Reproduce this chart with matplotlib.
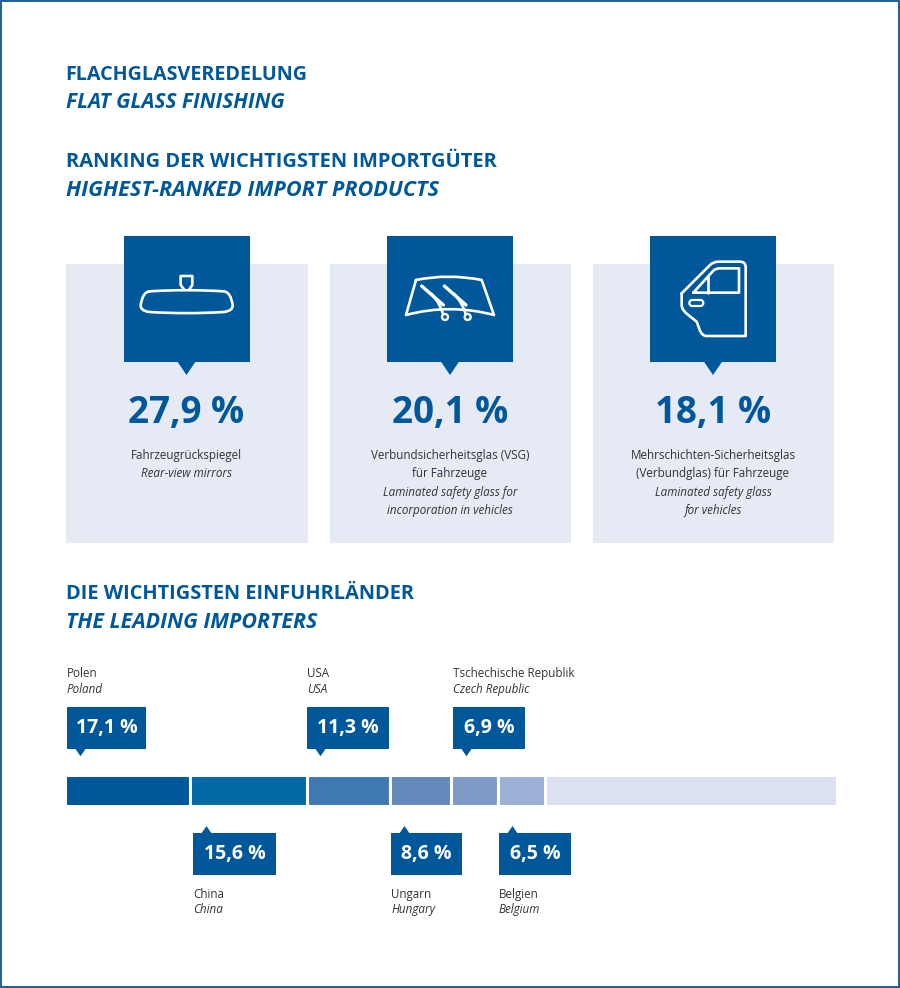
import matplotlib
matplotlib.use('Agg')
import matplotlib.pyplot as plt
from matplotlib.patches import Rectangle, Polygon, PathPatch, Circle
from matplotlib.path import Path

plt.rcParams['font.family'] = ['Open Sans', 'Noto Sans', 'DejaVu Sans']

BLUE = '#00589b'
PANEL = '#e6eaf5'
TEXT = '#333333'

# ranking cards
rank_values = ['27,9 %', '20,1 %', '18,1 %']
rank_de = [['Fahrzeugrückspiegel'],
           ['Verbundsicherheitsglas (VSG)', 'für Fahrzeuge'],
           ['Mehrschichten-Sicherheitsglas', '(Verbundglas) für Fahrzeuge']]
rank_en = [['Rear-view mirrors'],
           ['Laminated safety glass for', 'incorporation in vehicles'],
           ['Laminated safety glass', 'for vehicles']]

# importer bar, lengths as drawn in the picture (% of the bar)
countries_de = ['Polen', 'China', 'USA', 'Ungarn', 'Tschechische Republik', 'Belgien']
countries_en = ['Poland', 'China', 'USA', 'Hungary', 'Czech Republic', 'Belgium']
country_labels = ['17,1 %', '15,6 %', '11,3 %', '8,6 %', '6,9 %', '6,5 %']
bar_lengths = [16.2, 15.2, 10.8, 7.9, 6.1, 6.1, 37.7]
bar_colors = ['#00589b', '#0069a6', '#3f78b3', '#6489bd', '#7e9bc8', '#9db0d6', '#dce1f1']

fig = plt.figure(figsize=(9, 9.88), dpi=100)
ax = fig.add_axes([0, 0, 1, 1])
ax.set_xlim(0, 900)
ax.set_ylim(988, 0)
ax.axis('off')

ax.add_patch(Rectangle((1, 1), 898, 986, fc='white', ec='#1c5f9c', lw=1.4))


def heading(y, de, en, size_de, size_en):
    ax.text(65.5, y, de, color=BLUE, fontsize=size_de, fontweight='bold', va='center')
    ax.text(65.5, y + 28, en, color=BLUE, fontsize=size_en, fontweight='bold', style='italic', va='center')


heading(75, 'FLACHGLASVEREDELUNG', 'FLAT GLASS FINISHING', 14.2, 15)
heading(162, 'RANKING DER WICHTIGSTEN IMPORTGÜTER', 'HIGHEST-RANKED IMPORT PRODUCTS', 14.5, 15.6)
heading(594, 'DIE WICHTIGSTEN EINFUHRLÄNDER', 'THE LEADING IMPORTERS', 14.4, 15.4)

M, L, C = Path.MOVETO, Path.LINETO, Path.CURVE3


def outline(verts, codes=None, x0=0, y0=0, lw=1.9):
    # icon lines, verts traced at 3x zoom
    pts = [(x0 + x / 3, y0 + y / 3) for x, y in verts]
    if codes is None:
        codes = [M] + [L] * (len(pts) - 1)
    ax.add_patch(PathPatch(Path(pts, codes), fc='none', ec='white', lw=lw,
                           joinstyle='round', capstyle='round', zorder=5))


def mirror_icon(x0, y0):
    outline([(268, 184), (380, 177), (492, 184), (512, 186), (518, 225), (520, 242), (492, 246),
             (380, 253), (268, 246), (240, 242), (242, 225), (248, 186), (268, 184)],
            [M, C, C, C, C, C, C, C, C, C, C, C, C], x0=x0, y0=y0)
    outline([(372, 178), (362, 165), (362, 138), (397, 138), (397, 165), (388, 178)], x0=x0, y0=y0)


def shield_icon(x0, y0):
    outline([(108, 150), (205, 130), (305, 150), (342, 255), (210, 220), (78, 255), (108, 150)],
            [M, C, C, L, C, C, L], x0=x0, y0=y0)
    for dx in (0, 68):
        outline([(125 + dx, 168), (190 + dx, 225)], x0=x0, y0=y0, lw=2.4)
        outline([(155 + dx, 192), (180 + dx, 220), (190 + dx, 255)], [M, C, C], x0=x0, y0=y0)
        ax.add_patch(Circle((x0 + (195 + dx) / 3, y0 + 261 / 3), 3, fc=BLUE, ec='white', lw=1.7, zorder=6))


def door_icon(x0, y0):
    outline([(110, 190), (195, 105), (205, 95), (220, 95), (285, 95), (302, 95), (302, 112), (302, 318),
             (185, 318), (172, 318), (165, 302), (155, 275), (130, 255), (110, 240), (110, 225), (110, 190)],
            [M, L, C, C, L, C, C, L, L, C, C, L, L, C, C, L], x0=x0, y0=y0)
    outline([(145, 188), (205, 122), (212, 115), (225, 115), (282, 115), (282, 188), (145, 188)],
            [M, L, C, C, L, L, L], x0=x0, y0=y0)
    outline([(190, 140), (190, 188)], x0=x0, y0=y0)
    outline([(142, 210), (166, 210), (175, 210), (175, 219), (175, 228), (166, 228), (142, 228),
             (133, 228), (133, 219), (133, 210), (142, 210)],
            [M, L, C, C, C, C, L, C, C, C, C], x0=x0, y0=y0, lw=1.6)


# ranking cards
card_left = [66, 329.5, 592.5]
card_icons = [(mirror_icon, 60, 230), (shield_icon, 380, 230), (door_icon, 645, 230)]
for i, left in enumerate(card_left):
    ax.add_patch(Rectangle((left, 264), 241.5, 279, fc=PANEL, ec='none'))
    mid = left + 120.5
    ax.add_patch(Rectangle((mid - 63, 236), 126, 125.5, fc=BLUE, ec='none', zorder=2))
    ax.add_patch(Polygon([(mid - 9.5, 361), (mid + 9.5, 361), (mid, 375)], fc=BLUE, ec='none', zorder=2))
    fn, ix, iy = card_icons[i]
    fn(ix, iy)
    ax.text(mid, 413, rank_values[i], color=BLUE, fontsize=26.5, fontweight='bold', ha='center', va='center')
    y = 455
    for line in rank_de[i]:
        ax.text(mid, y, line, color=TEXT, fontsize=8.4, ha='center', va='center')
        y += 18.5
    for line in rank_en[i]:
        ax.text(mid, y, line, color=TEXT, fontsize=8.4, style='italic', ha='center', va='center')
        y += 18.5

# stacked bar in its own axes, so the lengths go through a real scale
bar_ax = fig.add_axes([64.5 / 900, 1 - 806 / 988, 772 / 900, 31 / 988])
bar_ax.set_xlim(0, sum(bar_lengths))
bar_ax.set_ylim(0, 1)
bar_ax.axis('off')
left = 0
for length, color in zip(bar_lengths, bar_colors):
    bar_ax.barh(0.5, length, left=left, height=1, color=color, edgecolor='white', linewidth=2.2)
    left += length

# callouts: Polen, USA, Tschechien above the bar, the others below
callout_left = [67, 193, 307, 391, 453, 499]
callout_width = [79, 83, 82, 71, 72, 72]
callout_above = [True, False, True, False, True, False]
for i in range(6):
    x = callout_left[i]
    w = callout_width[i]
    if callout_above[i]:
        top = 707.3
        ax.add_patch(Rectangle((x, top), w, 42, fc=BLUE, ec='none'))
        ax.add_patch(Polygon([(x + 8, top + 41), (x + 19, top + 41), (x + 13.5, top + 49)], fc=BLUE, ec='none'))
        ax.text(x + w / 2, top + 21, country_labels[i], color='white', fontsize=14, fontweight='bold', ha='center', va='center')
        ax.text(x, 673.5, countries_de[i], color=TEXT, fontsize=8.4, va='center')
        ax.text(x, 689, countries_en[i], color=TEXT, fontsize=8.4, style='italic', va='center')
    else:
        top = 833
        ax.add_patch(Rectangle((x, top), w, 41.5, fc=BLUE, ec='none'))
        ax.add_patch(Polygon([(x + 8, top + 1), (x + 19, top + 1), (x + 13.5, top - 7)], fc=BLUE, ec='none'))
        ax.text(x + w / 2, top + 21, country_labels[i], color='white', fontsize=14, fontweight='bold', ha='center', va='center')
        ax.text(x, 894, countries_de[i], color=TEXT, fontsize=8.4, va='center')
        ax.text(x, 909, countries_en[i], color=TEXT, fontsize=8.4, style='italic', va='center')

fig.savefig('out.png', dpi=100)
